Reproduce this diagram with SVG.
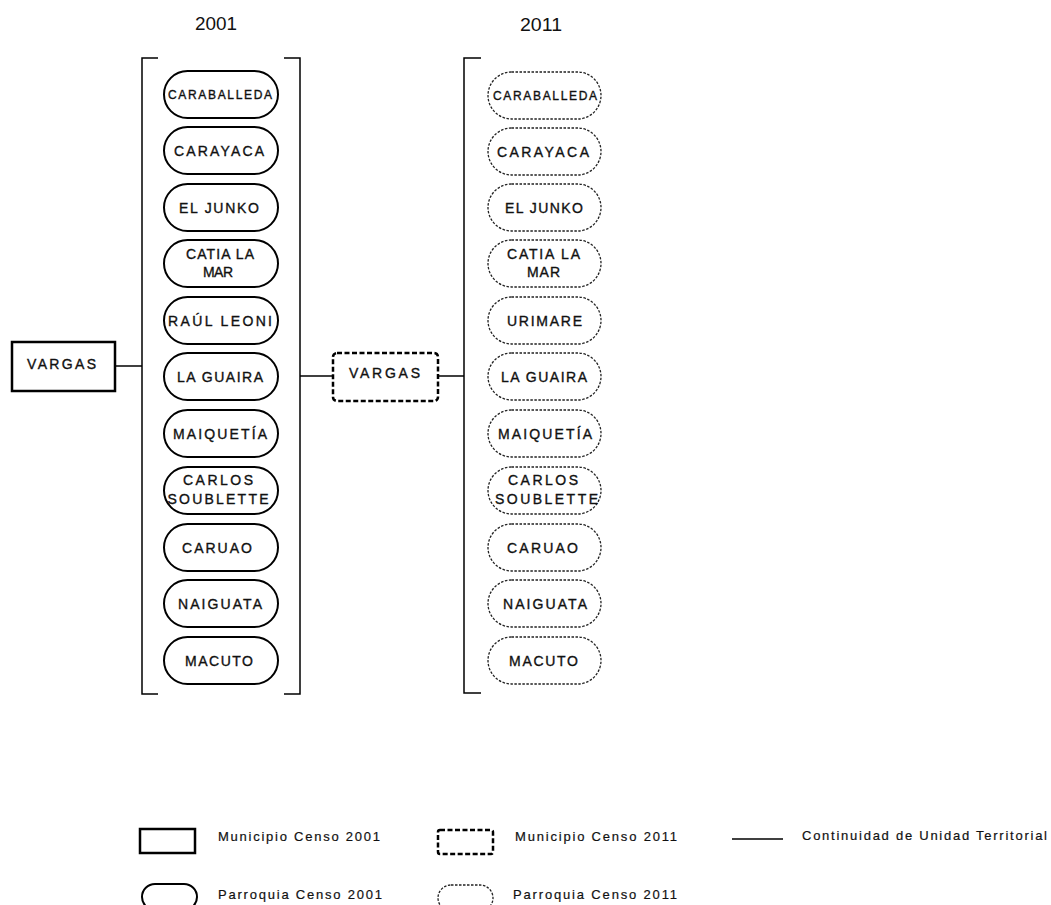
<svg xmlns="http://www.w3.org/2000/svg" width="1051" height="905" viewBox="0 0 1051 905">
<style>
text{font-family:"Liberation Sans",Arial,sans-serif;fill:#111;text-anchor:middle}
.t{font-size:14px;stroke:#111;stroke-width:0.35}
.s{font-size:12px;stroke:#111;stroke-width:0.35}
.h{font-size:18px}
.lg{font-size:13px;text-anchor:start;stroke:#111;stroke-width:0.2}
.p1{fill:#fff;stroke:#000;stroke-width:2}
.p2{fill:#fff;stroke:#222;stroke-width:1.3;stroke-dasharray:2.5 1.5}
.m1{fill:#fff;stroke:#000;stroke-width:2.5}
.m2{fill:#fff;stroke:#000;stroke-width:2.5;stroke-dasharray:5 2.5}
.br{fill:none;stroke:#000;stroke-width:1.5}
.ln{stroke:#000;stroke-width:1.5}
</style>
<text class="h" x="216" y="30" textLength="42" lengthAdjust="spacingAndGlyphs">2001</text>
<text class="h" x="541" y="31" textLength="42" lengthAdjust="spacingAndGlyphs">2011</text>
<g id="brackets">
<path class="br" d="M158,58H142V694H158"/>
<path class="br" d="M284,58H300V694H284"/>
<path class="br" d="M481,58H464V693H481"/>
</g>
<g id="connectors">
<line class="ln" x1="115" y1="366" x2="142" y2="366"/>
<line class="ln" x1="300" y1="376" x2="333" y2="376"/>
<line class="ln" x1="438" y1="376" x2="464" y2="376"/>
</g>
<g id="vargas2001"><rect class="m1" x="12" y="342" width="103" height="49"/><text class="t" x="61.5" y="369" textLength="69" lengthAdjust="spacing">VARGAS</text></g>
<g id="vargas2011"><rect class="m2" x="333" y="353" width="105" height="48" rx="4"/><text class="t" x="384.5" y="378" textLength="71" lengthAdjust="spacing">VARGAS</text></g>
<g id="p2001-caraballeda"><rect class="p1" x="164" y="71" width="114" height="47" rx="23.5"/><text class="s" x="220" y="98.5" textLength="104" lengthAdjust="spacing">CARABALLEDA</text></g>
<g id="p2001-carayaca"><rect class="p1" x="164" y="127" width="114" height="47" rx="23.5"/><text class="t" x="219" y="155.5" textLength="90" lengthAdjust="spacing">CARAYACA</text></g>
<g id="p2001-eljunko"><rect class="p1" x="164" y="184" width="114" height="47" rx="23.5"/><text class="t" x="219" y="212.5" textLength="80" lengthAdjust="spacing">EL JUNKO</text></g>
<g id="p2001-catialamar"><rect class="p1" x="164" y="240" width="114" height="47" rx="23.5"/><text class="t" x="220" y="259" textLength="68" lengthAdjust="spacing">CATIA LA</text><text class="t" x="218" y="277" textLength="30" lengthAdjust="spacing">MAR</text></g>
<g id="p2001-raulleoni"><rect class="p1" x="164" y="297" width="114" height="47" rx="23.5"/><text class="t" x="220" y="325.5" textLength="104" lengthAdjust="spacing">RAÚL LEONI</text></g>
<g id="p2001-laguaira"><rect class="p1" x="164" y="353" width="114" height="47" rx="23.5"/><text class="t" x="220" y="382" textLength="86" lengthAdjust="spacing">LA GUAIRA</text></g>
<g id="p2001-maiquetia"><rect class="p1" x="164" y="410" width="114" height="47" rx="23.5"/><text class="t" x="220" y="438.5" textLength="94" lengthAdjust="spacing">MAIQUETÍA</text></g>
<g id="p2001-carlossoublette"><rect class="p1" x="164" y="467" width="114" height="47" rx="23.5"/><text class="t" x="218" y="485" textLength="70" lengthAdjust="spacing">CARLOS</text><text class="t" x="218" y="504" textLength="101" lengthAdjust="spacing">SOUBLETTE</text></g>
<g id="p2001-caruao"><rect class="p1" x="164" y="524" width="114" height="47" rx="23.5"/><text class="t" x="217" y="552.5" textLength="70" lengthAdjust="spacing">CARUAO</text></g>
<g id="p2001-naiguata"><rect class="p1" x="164" y="580" width="114" height="47" rx="23.5"/><text class="t" x="220" y="609" textLength="84" lengthAdjust="spacing">NAIGUATA</text></g>
<g id="p2001-macuto"><rect class="p1" x="164" y="637" width="114" height="47" rx="23.5"/><text class="t" x="219" y="665.5" textLength="68" lengthAdjust="spacing">MACUTO</text></g>
<g id="p2011-caraballeda"><rect class="p2" x="488" y="72" width="113" height="47" rx="23.5"/><text class="s" x="545" y="99.5" textLength="104" lengthAdjust="spacing">CARABALLEDA</text></g>
<g id="p2011-carayaca"><rect class="p2" x="488" y="128" width="113" height="47" rx="23.5"/><text class="t" x="543" y="156.5" textLength="92" lengthAdjust="spacing">CARAYACA</text></g>
<g id="p2011-eljunko"><rect class="p2" x="488" y="184" width="113" height="47" rx="23.5"/><text class="t" x="544" y="212.5" textLength="78" lengthAdjust="spacing">EL JUNKO</text></g>
<g id="p2011-catialamar"><rect class="p2" x="488" y="240" width="113" height="47" rx="23.5"/><text class="t" x="543.5" y="259" textLength="73" lengthAdjust="spacing">CATIA LA</text><text class="t" x="543.5" y="277" textLength="33" lengthAdjust="spacing">MAR</text></g>
<g id="p2011-urimare"><rect class="p2" x="488" y="297" width="113" height="47" rx="23.5"/><text class="t" x="544.5" y="325.5" textLength="75" lengthAdjust="spacing">URIMARE</text></g>
<g id="p2011-laguaira"><rect class="p2" x="488" y="353" width="113" height="47" rx="23.5"/><text class="t" x="544" y="382" textLength="86" lengthAdjust="spacing">LA GUAIRA</text></g>
<g id="p2011-maiquetia"><rect class="p2" x="488" y="410" width="113" height="47" rx="23.5"/><text class="t" x="545" y="438.5" textLength="94" lengthAdjust="spacing">MAIQUETÍA</text></g>
<g id="p2011-carlossoublette"><rect class="p2" x="488" y="467" width="113" height="47" rx="23.5"/><text class="t" x="543" y="485" textLength="70" lengthAdjust="spacing">CARLOS</text><text class="t" x="546.5" y="504" textLength="103" lengthAdjust="spacing">SOUBLETTE</text></g>
<g id="p2011-caruao"><rect class="p2" x="488" y="524" width="113" height="47" rx="23.5"/><text class="t" x="542.5" y="552.5" textLength="71" lengthAdjust="spacing">CARUAO</text></g>
<g id="p2011-naiguata"><rect class="p2" x="488" y="580" width="113" height="47" rx="23.5"/><text class="t" x="545" y="609" textLength="84" lengthAdjust="spacing">NAIGUATA</text></g>
<g id="p2011-macuto"><rect class="p2" x="488" y="637" width="113" height="47" rx="23.5"/><text class="t" x="543.5" y="665.5" textLength="69" lengthAdjust="spacing">MACUTO</text></g>
<g id="legend">
<rect class="m1" x="140" y="829" width="55" height="24"/>
<text class="lg" x="218" y="840.5" textLength="162" lengthAdjust="spacing">Municipio Censo 2001</text>
<rect class="m2" x="438" y="830" width="55" height="24" rx="2"/>
<text class="lg" x="515" y="840.5" textLength="162" lengthAdjust="spacing">Municipio Censo 2011</text>
<line class="ln" x1="732" y1="839" x2="783" y2="839"/>
<text class="lg" x="802" y="839.5" textLength="245" lengthAdjust="spacing">Continuidad de Unidad Territorial</text>
<rect class="p1" x="142" y="884" width="55" height="26" rx="13"/>
<text class="lg" x="218" y="898.5" textLength="164" lengthAdjust="spacing">Parroquia Censo 2001</text>
<rect class="p2" x="438" y="885" width="55" height="26" rx="13"/>
<text class="lg" x="513" y="898.5" textLength="164" lengthAdjust="spacing">Parroquia Censo 2011</text>
</g>
</svg>
